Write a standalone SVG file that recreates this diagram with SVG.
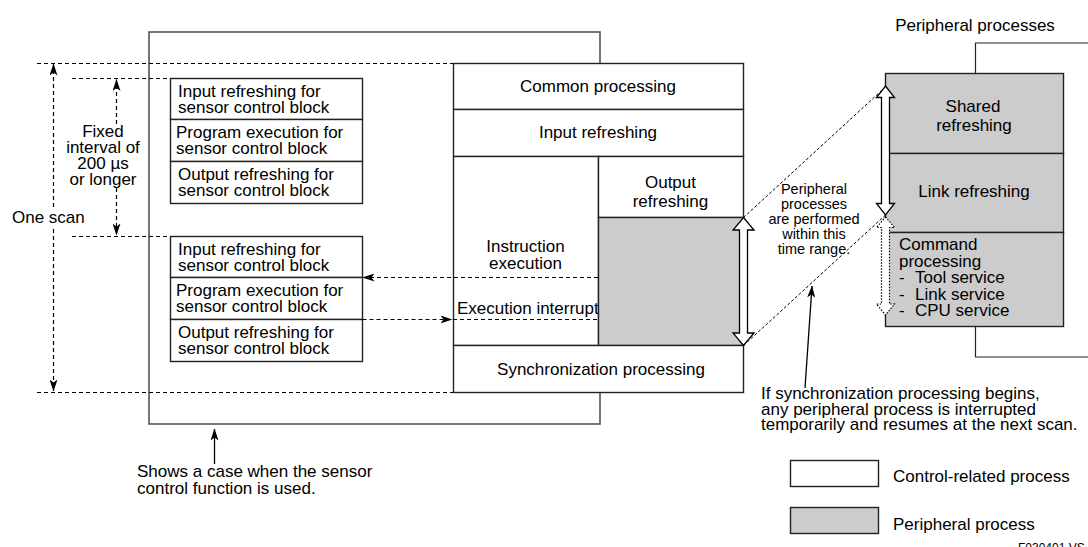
<svg xmlns="http://www.w3.org/2000/svg" width="1088" height="547" viewBox="0 0 1088 547">
  <defs>
    <style>
      .t { font-family: "Liberation Sans", Arial, sans-serif; font-size: 17px; fill: #000; }
      .sm { font-size: 14.5px; }
      .c { text-anchor: middle; }
      .box { fill: #fff; stroke: #222; stroke-width: 1.4; }
      .gray { fill: #cccccc; stroke: #222; stroke-width: 1.4; }
      .frame { fill: #fff; stroke: #555; stroke-width: 1.6; }
      .dash { fill: none; stroke: #000; stroke-width: 1.2; stroke-dasharray: 4 3; }
      .diag { fill: none; stroke: #000; stroke-width: 1; stroke-dasharray: 3 2; }
      .solid { fill: none; stroke: #000; stroke-width: 1.3; }
      .thin { fill: none; stroke: #222; stroke-width: 1.2; }
      .hollow { fill: #fff; stroke: #000; stroke-width: 1.3; stroke-linejoin: miter; }
      .dotted { fill: #fff; stroke: #000; stroke-width: 1.2; stroke-dasharray: 1.5 1.5; }
    </style>
    <marker id="ah" markerUnits="userSpaceOnUse" viewBox="0 0 12 8" markerWidth="12" markerHeight="8" refX="11.5" refY="4" orient="auto">
      <path d="M0,0 L12,4 L0,8 L3,4 z" fill="#000" stroke="none"/>
    </marker>
  </defs>

  <rect width="1088" height="547" fill="#fff"/>

  <!-- frame enclosing the scan that uses the sensor control function -->
  <g id="sensor-frame">
    <rect class="frame" x="149" y="32" width="451" height="392"/>
  </g>

  <!-- sensor control block, first pass -->
  <g id="sensor-in-1">
    <rect class="box" x="170.5" y="78.5" width="192" height="41"/>
    <text class="t" x="178" y="96.5">Input refreshing for<tspan x="178" dy="16">sensor control block</tspan></text>
  </g>
  <g id="sensor-prog-1">
    <rect class="box" x="170.5" y="119.5" width="192" height="42"/>
    <text class="t" x="176" y="138">Program execution for<tspan x="176" dy="16">sensor control block</tspan></text>
  </g>
  <g id="sensor-out-1">
    <rect class="box" x="170.5" y="161.5" width="192" height="42"/>
    <text class="t" x="178" y="180">Output refreshing for<tspan x="178" dy="16">sensor control block</tspan></text>
  </g>

  <!-- sensor control block, second pass -->
  <g id="sensor-in-2">
    <rect class="box" x="170.5" y="236.5" width="192" height="41"/>
    <text class="t" x="178" y="254.5">Input refreshing for<tspan x="178" dy="16">sensor control block</tspan></text>
  </g>
  <g id="sensor-prog-2">
    <rect class="box" x="170.5" y="277.5" width="192" height="42"/>
    <text class="t" x="176" y="296">Program execution for<tspan x="176" dy="16">sensor control block</tspan></text>
  </g>
  <g id="sensor-out-2">
    <rect class="box" x="170.5" y="319.5" width="192" height="42"/>
    <text class="t" x="178" y="338">Output refreshing for<tspan x="178" dy="16">sensor control block</tspan></text>
  </g>

  <!-- main scan column -->
  <g id="common-processing">
    <rect class="box" x="453.5" y="63.5" width="290" height="46"/>
    <text class="t c" x="598" y="91.5">Common processing</text>
  </g>
  <g id="input-refreshing">
    <rect class="box" x="453.5" y="109.5" width="290" height="47"/>
    <text class="t c" x="598" y="138">Input refreshing</text>
  </g>
  <g id="instruction-execution">
    <rect class="box" x="453.5" y="156.5" width="145" height="189"/>
    <text class="t c" x="525.5" y="252">Instruction<tspan x="525.5" dy="17">execution</tspan></text>
    <text class="t" x="457" y="314">Execution interrupt</text>
  </g>
  <g id="output-refreshing">
    <rect class="box" x="598.5" y="156.5" width="145" height="61"/>
    <text class="t c" x="670.5" y="188">Output<tspan x="670.5" dy="19">refreshing</tspan></text>
  </g>
  <g id="peripheral-slot">
    <rect class="gray" x="598.5" y="217.5" width="145" height="128"/>
  </g>
  <g id="synchronization-processing">
    <rect class="box" x="453.5" y="345.5" width="290" height="47"/>
    <text class="t c" x="601" y="375">Synchronization processing</text>
  </g>

  <!-- peripheral processes column -->
  <g id="peripheral-title">
    <text class="t c" x="975" y="31">Peripheral processes</text>
    <polyline class="thin" points="975.5,73.5 975.5,43 1090,43"/>
    <polyline class="thin" points="975.5,326.5 975.5,357 1090,357"/>
  </g>
  <g id="shared-refreshing">
    <rect class="gray" x="885.5" y="73.5" width="178" height="80"/>
    <text class="t c" x="973" y="112">Shared<tspan x="974" dy="19">refreshing</tspan></text>
  </g>
  <g id="link-refreshing">
    <rect class="gray" x="885.5" y="153.5" width="178" height="79"/>
    <text class="t c" x="974" y="197">Link refreshing</text>
  </g>
  <g id="command-processing">
    <rect class="gray" x="885.5" y="232.5" width="178" height="94"/>
    <text class="t" x="899" y="250">Command<tspan x="899" dy="16.6">processing</tspan><tspan x="899" dy="16.6">-</tspan><tspan x="915">Tool service</tspan><tspan x="899" dy="16.6">-</tspan><tspan x="915">Link service</tspan><tspan x="899" dy="16.6">-</tspan><tspan x="915">CPU service</tspan></text>
  </g>

  <!-- connectors -->
  <g id="connectors">
    <!-- scan boundaries -->
    <path class="dash" d="M37,63.5 H453"/>
    <path class="dash" d="M37,392.5 H453"/>
    <path class="dash" d="M72,78.5 H170"/>
    <path class="dash" d="M72,236.5 H170"/>

    <!-- one scan dimension -->
    <path class="dash" d="M53.5,207 V64" marker-end="url(#ah)"/>
    <path class="dash" d="M53.5,229 V391" marker-end="url(#ah)"/>

    <!-- fixed interval dimension -->
    <path class="dash" d="M116.5,124 V79.5" marker-end="url(#ah)"/>
    <path class="dash" d="M116.5,188 V235" marker-end="url(#ah)"/>

    <!-- jump to and back from the sensor control block -->
    <path class="dash" d="M598,277.5 H363" marker-end="url(#ah)"/>
    <path class="dash" d="M362.5,319.5 H452" marker-end="url(#ah)"/>
    <path class="dash" d="M453,319.5 H598"/>

    <!-- time range projection -->
    <path class="diag" d="M743.5,217.5 L885.5,87"/>
    <path class="diag" d="M743.5,345.5 L885.5,215"/>

    <!-- time range arrows -->
    <polygon class="hollow" points="743.5,217.5 754,230 747.5,230 747.5,333 754,333 743.5,345.5 733,333 739.5,333 739.5,230 733,230"/>
    <polygon class="hollow" points="885.5,86 894.5,97.5 889.5,97.5 889.5,203.5 894.5,203.5 885.5,215 876.5,203.5 881.5,203.5 881.5,97.5 876.5,97.5"/>
    <polygon class="dotted" points="885.5,217 894.5,227.5 889.5,227.5 889.5,304 894.5,304 885.5,315 876.5,304 881.5,304 881.5,227.5 876.5,227.5"/>

    <!-- annotation pointers -->
    <path class="solid" d="M214.5,464 V429" marker-end="url(#ah)"/>
    <path class="solid" d="M805,388 L812,286" marker-end="url(#ah)"/>
  </g>

  <!-- dimension and note labels -->
  <g id="labels">
    <text class="t" x="12" y="223">One scan</text>
    <text class="t c" x="103" y="137">Fixed<tspan x="103" dy="16">interval of</tspan><tspan x="103" dy="16">200 µs</tspan><tspan x="103" dy="16">or longer</tspan></text>

    <text class="t sm c" x="814" y="194">Peripheral<tspan x="814" dy="15">processes</tspan><tspan x="814" dy="15">are performed</tspan><tspan x="814" dy="15">within this</tspan><tspan x="814" dy="15">time range.</tspan></text>

    <text class="t" x="761" y="399">If synchronization processing begins,<tspan x="761" dy="15.5">any peripheral process is interrupted</tspan><tspan x="761" dy="15.5">temporarily and resumes at the next scan.</tspan></text>

    <text class="t" x="137" y="477">Shows a case when the sensor<tspan x="137" dy="17">control function is used.</tspan></text>
  </g>

  <!-- legend -->
  <g id="legend-control">
    <rect class="box" x="790.5" y="460.5" width="88" height="26"/>
    <text class="t" x="893" y="482">Control-related process</text>
  </g>
  <g id="legend-peripheral">
    <rect class="gray" x="790.5" y="507.5" width="88" height="26"/>
    <text class="t" x="893" y="530">Peripheral process</text>
  </g>
  <g id="figure-code">
    <text class="t" x="1018" y="552" style="font-size:12px">F030401.VS</text>
  </g>
</svg>
